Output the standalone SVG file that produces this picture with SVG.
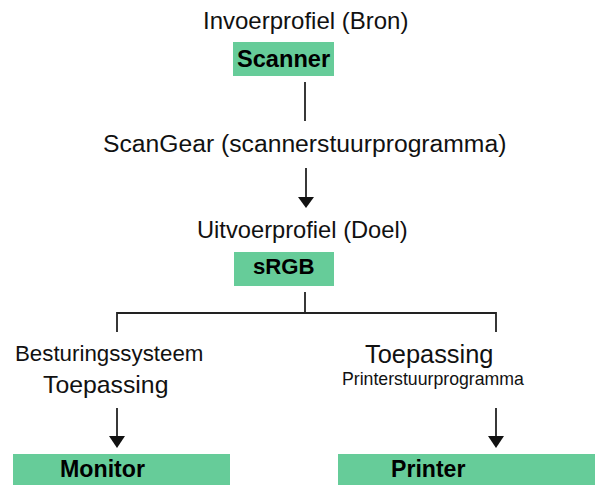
<svg xmlns="http://www.w3.org/2000/svg" width="595" height="485" viewBox="0 0 595 485">
<style>
.t{font-family:"Liberation Sans",Arial,Helvetica,sans-serif;fill:#111}
.b{font-family:"Liberation Sans",Arial,Helvetica,sans-serif;font-weight:bold;fill:#000}
.box{fill:#66CC99}
.ln{stroke:#222;stroke-width:1.8;fill:none}
.ah{fill:#111}
</style>
<rect width="595" height="485" fill="#fff"/>
<g id="connectors">
<line class="ln" x1="305" y1="82" x2="305" y2="121"/>
<line class="ln" x1="306" y1="168" x2="306" y2="198"/>
<polygon class="ah" points="298,197 314,197 306,208"/>
<polyline class="ln" points="305,292 305,313"/>
<polyline class="ln" points="117,332 117,313 496,313 496,332"/>
<line class="ln" x1="117" y1="408" x2="117" y2="437"/>
<polygon class="ah" points="109,436 125,436 117,448"/>
<line class="ln" x1="496" y1="408" x2="496" y2="437"/>
<polygon class="ah" points="488,436 504,436 496,448"/>
</g>
<g id="label-invoer"><text class="t" x="203" y="29" font-size="24">Invoerprofiel (Bron)</text></g>
<g id="scanner"><rect class="box" x="233" y="42" width="101" height="34"/><text class="b" x="237" y="67" font-size="23.6">Scanner</text></g>
<g id="scangear"><text class="t" x="103" y="152" font-size="24.7">ScanGear (scannerstuurprogramma)</text></g>
<g id="label-uitvoer"><text class="t" x="197" y="238" font-size="23.7">Uitvoerprofiel (Doel)</text></g>
<g id="srgb"><rect class="box" x="234" y="252" width="100" height="34"/><text class="b" x="253" y="274" font-size="22.2">sRGB</text></g>
<g id="os"><text class="t" x="15" y="361" font-size="22.3">Besturingssysteem</text><text class="t" x="43" y="393" font-size="24.8">Toepassing</text></g>
<g id="app"><text class="t" x="365" y="363" font-size="25.4">Toepassing</text><text class="t" x="342" y="385" font-size="17.7">Printerstuurprogramma</text></g>
<g id="monitor"><rect class="box" x="13" y="454" width="217" height="31"/><text class="b" x="60" y="477" font-size="23.2">Monitor</text></g>
<g id="printer"><rect class="box" x="338" y="454" width="257" height="31"/><text class="b" x="391" y="477" font-size="23.1">Printer</text></g>
</svg>
